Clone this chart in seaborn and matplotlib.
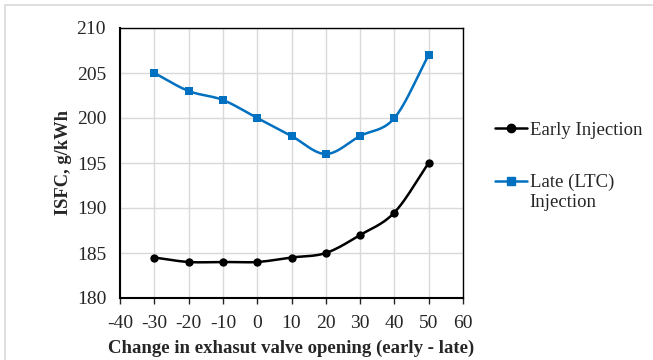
import numpy as np
import pandas as pd
import matplotlib
matplotlib.use("Agg")
import matplotlib.pyplot as plt
import seaborn as sns
from matplotlib.patches import Rectangle

# data
evo_change = [-30, -20, -10, 0, 10, 20, 30, 40, 50]
isfc_early = [184.5, 184.0, 184.0, 184.0, 184.5, 185.0, 187.0, 189.5, 195.0]
isfc_late = [205.0, 203.0, 202.0, 200.0, 198.0, 196.0, 198.0, 200.0, 207.0]
series_names = ["Early Injection", "Late (LTC)"]
x_ticks = [-40, -30, -20, -10, 0, 10, 20, 30, 40, 50, 60]
y_ticks = [180, 185, 190, 195, 200, 205, 210]


def smooth(x, y, n=20):
    # catmull-rom curve through the points, like excel's smoothed line
    x = np.asarray(x, float)
    y = np.asarray(y, float)
    px = np.concatenate([[2 * x[0] - x[1]], x, [2 * x[-1] - x[-2]]])
    py = np.concatenate([[2 * y[0] - y[1]], y, [2 * y[-1] - y[-2]]])
    xs, ys = [], []
    t = np.linspace(0, 1, n, endpoint=False)
    for i in range(1, len(px) - 2):
        for p, out in ((px, xs), (py, ys)):
            p0, p1, p2, p3 = p[i - 1], p[i], p[i + 1], p[i + 2]
            out.extend(0.5 * (2 * p1 + (-p0 + p2) * t
                              + (2 * p0 - 5 * p1 + 4 * p2 - p3) * t ** 2
                              + (-p0 + 3 * p1 - 3 * p2 + p3) * t ** 3))
    xs.append(x[-1])
    ys.append(y[-1])
    return np.array(xs), np.array(ys)


sns.set_style("white")
plt.rcParams["font.family"] = ["Liberation Serif", "DejaVu Serif"]
plt.rcParams["axes.unicode_minus"] = False

df = pd.DataFrame({"change": evo_change, "early": isfc_early, "late": isfc_late})

fig = plt.figure(figsize=(6.53, 3.6), dpi=100)
ax = fig.add_axes([120 / 653, 1 - 298 / 360, 343 / 653, 270 / 360])

# light frame around the whole chart
fig.patches.append(Rectangle((5 / 653, -0.1), 1.2, 1 - 5 / 360 + 0.1, transform=fig.transFigure,
                             fill=False, edgecolor="#d9d9d9", linewidth=1.2))

styles = [("early", "black", "o", 6), ("late", "#0070c0", "s", 6)]
for (col, color, marker, ms), name in zip(styles, series_names):
    sx, sy = smooth(df["change"], df[col])
    sns.lineplot(x=sx, y=sy, ax=ax, color=color, linewidth=1.8, sort=False)
    sns.scatterplot(data=df, x="change", y=col, ax=ax, color=color, marker=marker,
                    s=ms ** 2, edgecolor=color, linewidth=0, zorder=3)
    ax.plot([], [], color=color, marker=marker, markersize=ms, linewidth=1.8, label=name)

ax.set_xlim(-40, 60)
ax.set_ylim(180, 210)
ax.set_xticks(x_ticks)
ax.set_yticks(y_ticks)
ax.grid(True, color="#d9d9d9", linewidth=1)
ax.set_axisbelow(True)
for s in ax.spines.values():
    s.set_color("black")
    s.set_linewidth(1.0)
ax.spines["left"].set_linewidth(1.5)
ax.spines["bottom"].set_linewidth(1.5)
ax.tick_params(axis="x", direction="out", length=4, width=1, bottom=True, labelsize=14, pad=8)
ax.tick_params(axis="y", length=0, labelsize=14, pad=10)

ax.set_xlabel("Change in exhasut valve opening (early - late)", fontsize=13.5, fontweight="bold", labelpad=6)
ax.set_ylabel("ISFC, g/kWh", fontsize=13.3, fontweight="bold", labelpad=3)

leg = ax.legend(loc="center left", bbox_to_anchor=((495 - 120) / 343, (298 - 156.5) / 270),
                frameon=False, fontsize=13.5, borderpad=0, borderaxespad=0,
                handlelength=1.7, handletextpad=0.15, labelspacing=1.87)

# second line of the late-injection label, under "Late (LTC)"
fig.canvas.draw()
bb = leg.get_texts()[1].get_window_extent().transformed(fig.transFigure.inverted())
fig.text(bb.x0, bb.y1 - 20 / 360, "Injection", ha="left", va="top", fontsize=13.5)

fig.savefig("out.png", dpi=100)
